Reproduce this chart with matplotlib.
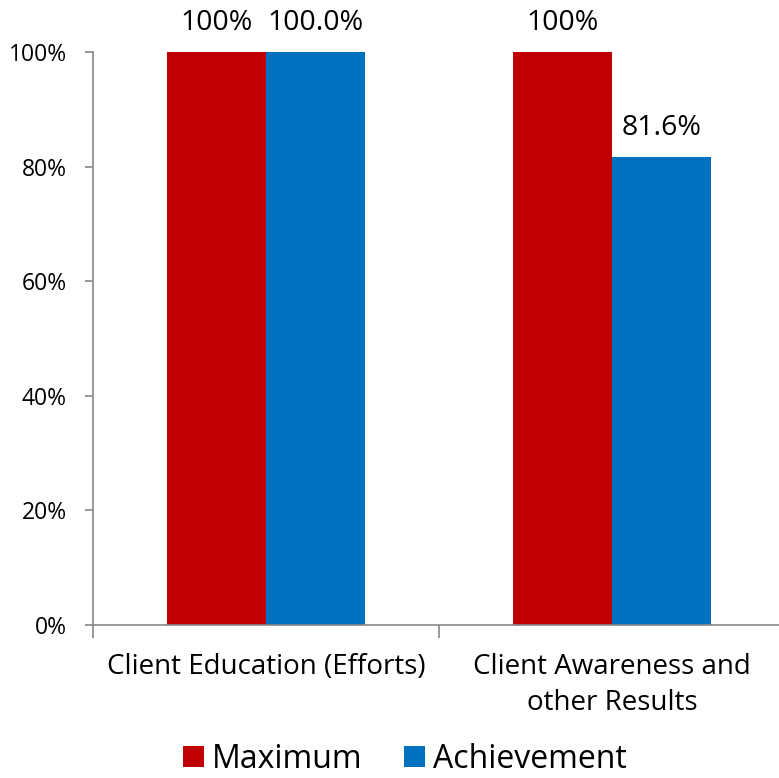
import matplotlib
matplotlib.use("Agg")
import matplotlib.pyplot as plt
from matplotlib.ticker import PercentFormatter
import numpy as np

plt.rcParams['font.family'] = ['Open Sans', 'DejaVu Sans']

categories = ['Client Education (Efforts)', 'Client Awareness and\nother Results']
maximum = [1.0, 1.0]
achievement = [1.0, 0.816]
max_labels = ['100%', '100%']
ach_labels = ['100.0%', '81.6%']

RED = '#C00000'
BLUE = '#0070C0'
GREY = '#888888'

fig = plt.figure(figsize=(7.79, 7.78), dpi=100)
# plot area runs a little past the right edge, as in the original
ax = fig.add_axes([93 / 779, 1 - 625 / 778, 692 / 779, 573 / 778])

x = np.arange(len(categories))
w = 0.286
b1 = ax.bar(x - w / 2, maximum, w, color=RED, label='Maximum')
b2 = ax.bar(x + w / 2, achievement, w, color=BLUE, label='Achievement')

for bars, labs in ((b1, max_labels), (b2, ach_labels)):
    for r, t in zip(bars, labs):
        ax.annotate(t, (r.get_x() + r.get_width() / 2, r.get_height()),
                    xytext=(0, 11), textcoords='offset points',
                    ha='center', va='bottom', fontsize=20.5)

ax.set_xlim(-0.5, 1.5)
ax.set_ylim(0, 1)
ax.yaxis.set_major_formatter(PercentFormatter(1.0, decimals=0))
ax.set_yticks(np.linspace(0, 1, 6))

# category labels between boundary ticks
ax.set_xticks([-0.5, 0.5, 1.5])
ax.set_xticklabels([])
ax.set_xticks(x, minor=True)
ax.set_xticklabels(categories, minor=True, fontsize=20, linespacing=1.4)
ax.tick_params(axis='x', which='major', length=9, width=1.2, color=GREY, direction='out')
ax.tick_params(axis='x', which='minor', length=0, pad=20)
ax.tick_params(axis='y', length=6, width=1.2, color=GREY, labelsize=16.5, pad=13)

for s in ('top', 'right'):
    ax.spines[s].set_visible(False)
for s in ('left', 'bottom'):
    ax.spines[s].set_color(GREY)
    ax.spines[s].set_linewidth(1.2)

fig.legend(handles=[b1, b2], loc='lower center', bbox_to_anchor=(0.52, -0.034),
           ncol=2, frameon=False, fontsize=23, handlelength=0.66,
           handleheight=0.66, handletextpad=0.25, columnspacing=1.3)

fig.savefig('out.png', dpi=100)
